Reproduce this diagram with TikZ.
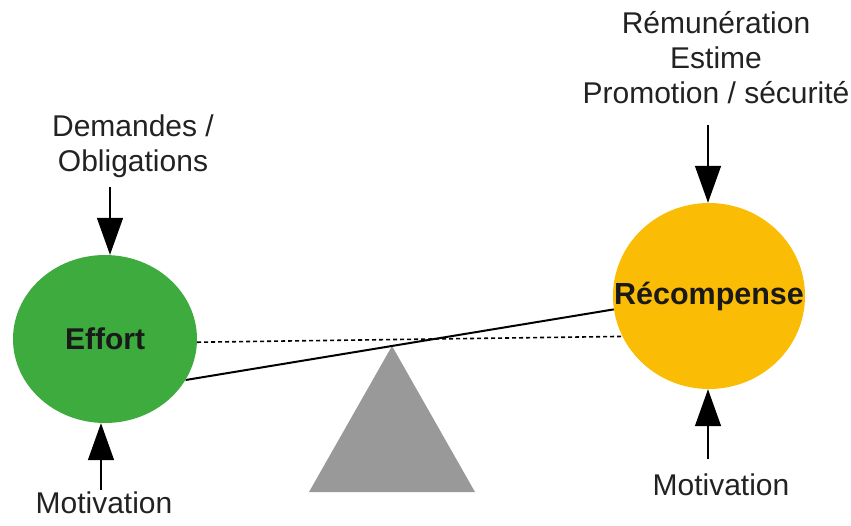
\documentclass[tikz,border=0pt]{standalone}
\usepackage{fontspec}
\setmainfont{Liberation Sans}
\usetikzlibrary{arrows.meta,shapes.geometric}
\definecolor{effortgreen}{RGB}{61,171,61}
\definecolor{rewardyellow}{RGB}{251,188,5}
\definecolor{pivotgray}{RGB}{153,153,153}
\definecolor{inkgray}{RGB}{34,34,34}
\tikzset{>={Triangle[length=37pt,width=26pt]},
  font=\fontsize{30}{35}\selectfont,
  ball/.style={ellipse,inner sep=0pt,draw=none},
  lbl/.style={align=center,text=inkgray,inner sep=0pt},
  push/.style={->,line width=1.5pt,draw=black}}

\begin{document}
\begin{tikzpicture}[x=1pt,y=-1pt]
\useasboundingbox (0,0) rectangle (851,525);
% balance support
\coordinate (pivot) at (392,346);
\fill[pivotgray] (pivot) -- (475,492) -- (309,492) -- cycle;
\node[ball,minimum width=184pt,minimum height=168pt] (effort) at (105,339) {};
\node[ball,minimum width=192pt,minimum height=186pt] (recompense) at (709,296) {};
\draw[line width=1.6pt,dash pattern=on 4pt off 3pt] (effort.-2) -- (recompense.205);
\draw[line width=2pt] (effort.-27.7) -- (recompense.-172.9);
\fill[effortgreen] (effort.center) ellipse [x radius=92pt,y radius=84pt];
\fill[rewardyellow] (recompense.center) ellipse [x radius=96pt,y radius=93pt];
\node[text=black!90,font=\fontsize{30}{35}\selectfont\bfseries] at (effort) {Effort};
\node[text=black!90,font=\fontsize{30.5}{35}\selectfont\bfseries] at (recompense) {Récompense};
% labels
\node[lbl] (demandes) at (133,146) {Demandes /\\Obligations};
\node[lbl] (remun) at (716,58) {Rémunération\\Estime\\Promotion / sécurité};
\node[lbl] (motivL) at (104,503) {Motivation};
\node[lbl] (motivR) at (721,485) {Motivation};
% arrows
\coordinate (dTop) at (110,187);
\coordinate (rTop) at (708,125);
\coordinate (mL) at (101,490);
\coordinate (mR) at (708,459);
\draw[push] (dTop) -- (dTop |- effort.north);
\draw[push] (rTop) -- (rTop |- recompense.north);
\draw[push] (mL) -- (mL |- effort.south);
\draw[push] (mR) -- (mR |- recompense.south);
\end{tikzpicture}
\end{document}
